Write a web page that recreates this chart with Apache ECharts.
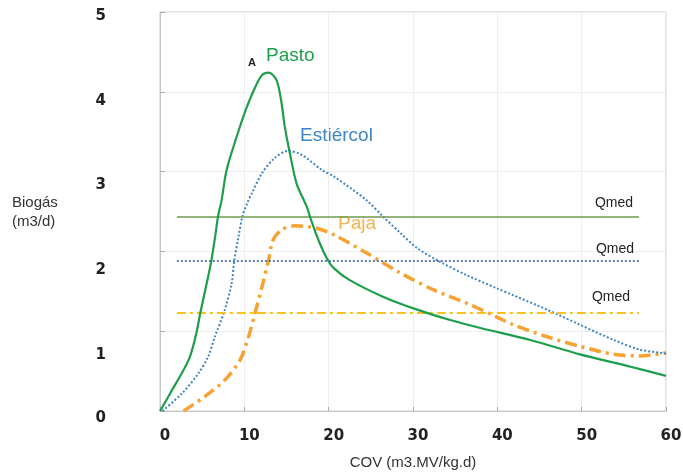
<!DOCTYPE html>
<html lang="es">
<head>
    <meta charset="UTF-8">
    <title>Biogás</title>
    <script src="https://cdn.jsdelivr.net/npm/echarts@6/dist/echarts.min.js"></script>
    <style>
        html, body { margin: 0; padding: 0; background: #fff; }
    </style>
</head>
<body>
<div id="main" style="width: 683px;height:475px;"></div>
<script type="text/javascript">
    // curvas: [COV, biogás]
    var pasto = [
        [0, 0], [1.2, 0.22], [3.4, 0.64], [4.3, 0.97], [4.8, 1.24], [5.7, 1.68], [6.1, 1.89], [6.6, 2.23],
        [6.9, 2.45], [7.3, 2.64], [7.9, 3.02], [9.1, 3.44], [10.3, 3.81], [11.3, 4.06],
        [12.1, 4.21], [12.9, 4.24], [13.8, 4.15], [14.35, 3.9], [14.8, 3.56], [15.4, 3.23],
        [16.2, 2.85], [17.4, 2.56], [17.8, 2.43], [18.8, 2.14], [19.8, 1.91], [20.6, 1.79],
        [22.5, 1.64], [26.5, 1.43], [30.5, 1.27], [34.4, 1.14], [38, 1.04], [43.9, 0.89],
        [49.8, 0.71], [55.8, 0.555], [60, 0.44]
    ];
    var estiercol = [
        [0.3, 0], [2.6, 0.22], [4.55, 0.47], [5.7, 0.68], [6.5, 0.93], [7.6, 1.24], [8.5, 1.6],
        [8.8, 1.88], [9.3, 2.18], [9.8, 2.45], [10.4, 2.62], [10.9, 2.73], [12.1, 2.98],
        [13.6, 3.17], [15.2, 3.26], [16.8, 3.21], [19.2, 3.02], [20.6, 2.94], [24.5, 2.64],
        [26.5, 2.43], [28.5, 2.23], [30.5, 2.04], [33.2, 1.87], [36.4, 1.7], [39.9, 1.54],
        [41.9, 1.45], [45.9, 1.27], [49.8, 1.08], [53.8, 0.89], [56.9, 0.77], [60, 0.72]
    ];
    var paja = [
        [2.8, 0], [5.3, 0.18], [7.7, 0.39], [9.5, 0.64], [10.5, 0.93], [11.3, 1.24], [12.1, 1.56],
        [12.85, 1.88], [13.4, 2.14], [14.4, 2.27], [16, 2.32], [17.6, 2.31], [18.6, 2.29],
        [20.6, 2.21], [24.5, 1.98], [28.5, 1.73], [32.4, 1.52], [36.4, 1.35], [39.9, 1.18],
        [41.9, 1.08], [45.9, 0.93], [49.8, 0.81], [53.8, 0.71], [56.9, 0.69], [60, 0.73]
    ];
    // caudales medios (Qmed)
    var qmedX = [2, 56.8];
    var qmedPasto = 2.44;
    var qmedEstiercol = 1.88;
    var qmedPaja = 1.23;

    var xTicks = [0, 10, 20, 30, 40, 50, 60];
    var yTicks = [0, 1, 2, 3, 4, 5];

    var labelFont = {fontFamily: 'DejaVu Sans', fontWeight: 'bold', fontSize: 15, color: '#222'};

    function qmedLine(y, color, type, width, dist) {
        return {
            silent: true,
            symbol: 'none',
            lineStyle: {color: color, type: type, width: width},
            label: {
                show: true, position: 'insideEndTop', formatter: 'Qmed', distance: dist,
                fontFamily: 'Liberation Sans', fontSize: 14, color: '#222'
            },
            data: [[{coord: [qmedX[0], y]}, {coord: [qmedX[1], y]}]]
        };
    }

    var myChart = echarts.init(document.getElementById('main'));
    myChart.setOption({
        animation: false,
        grid: [
            {left: 160, right: 17, top: 12, bottom: 64, show: true, borderColor: '#c8c8c8', borderWidth: 1,
                outerBoundsMode: 'none', containLabel: false},
            // solo para las etiquetas del eje Y (desplazadas como en el original)
            {left: 160, right: 17, top: 16, height: 424, outerBoundsMode: 'none', containLabel: false}
        ],
        xAxis: [{
            type: 'value', min: xTicks[0], max: xTicks[xTicks.length - 1], interval: 10,
            name: 'COV (m3.MV/kg.d)', nameLocation: 'middle', nameGap: 44,
            nameTextStyle: {fontFamily: 'Liberation Sans', fontSize: 15, color: '#333'},
            axisLine: {lineStyle: {color: '#c8c8c8'}},
            axisTick: {inside: true, length: 4, lineStyle: {color: '#aaa'}},
            axisLabel: Object.assign({margin: 18, padding: [0, 0, 0, 10]}, labelFont),
            splitLine: {lineStyle: {color: '#eeeeee'}}
        }, {
            gridIndex: 1, type: 'value', min: 0, max: 60, show: false
        }],
        yAxis: [{
            type: 'value', min: yTicks[0], max: yTicks[yTicks.length - 1], interval: 1,
            axisLine: {show: true, lineStyle: {color: '#c8c8c8'}},
            axisTick: {show: true, inside: true, length: 5, lineStyle: {color: '#aaa'}},
            axisLabel: Object.assign({
                margin: 54, verticalAlign: 'top', formatter: function (v) { return v === 0 ? '0' : ''; }
            }, labelFont),
            splitLine: {lineStyle: {color: '#eeeeee'}}
        }, {
            gridIndex: 1, type: 'value', min: yTicks[0], max: yTicks[yTicks.length - 1], interval: 1,
            axisLine: {show: false}, axisTick: {show: false}, splitLine: {show: false},
            axisLabel: Object.assign({
                margin: 54, formatter: function (v) { return v === 0 ? '' : String(v); }
            }, labelFont)
        }],
        series: [
            {
                name: 'Pasto', type: 'line', data: pasto, smooth: 0.3,
                symbol: 'none', lineStyle: {color: '#1c9e4a', width: 2.2}, z: 5
            },
            {
                name: 'Estiércol', type: 'line', data: estiercol, smooth: 0.3,
                symbol: 'none', lineStyle: {color: '#3d85c6', width: 2, type: [2, 2]}, z: 4
            },
            {
                name: 'Paja', type: 'line', data: paja, smooth: 0.3,
                symbol: 'none', lineStyle: {color: '#f6a334', width: 3.5, type: [12, 5, 3, 5]}, z: 3
            },
            {
                name: 'QmedPasto', type: 'line', data: [], markLine: qmedLine(qmedPasto, '#6f9b4e', 'solid', 1.6, 6)
            },
            {
                name: 'QmedEstiercol', type: 'line', data: [], markLine: qmedLine(qmedEstiercol, '#2f4f9a', [2, 2], 1.5, 5)
            },
            {
                name: 'QmedPaja', type: 'line', data: [], markLine: qmedLine(qmedPaja, '#f7c21a', [9, 4, 3, 4], 1.8, 9)
            }
        ],
        graphic: [
            {type: 'text', left: 12, top: 193, style: {text: 'Biogás\n(m3/d)', fontFamily: 'Liberation Sans', fontSize: 15, lineHeight: 19, fill: '#333'}},
            {type: 'text', left: 248, top: 57, style: {text: 'A', fontFamily: 'Liberation Sans', fontWeight: 'bold', fontSize: 11, fill: '#222'}},
            {type: 'text', left: 266, top: 46, style: {text: 'Pasto', fontFamily: 'Liberation Sans', fontSize: 19, fill: '#1c9e4a'}},
            {type: 'text', left: 300, top: 126, style: {text: 'Estiércol', fontFamily: 'Liberation Sans', fontSize: 19, fill: '#3d85c6'}},
            {type: 'text', left: 338, top: 214, style: {text: 'Paja', fontFamily: 'Liberation Sans', fontSize: 19, fill: '#f7b24f'}}
        ]
    });
</script>
</body>
</html>
